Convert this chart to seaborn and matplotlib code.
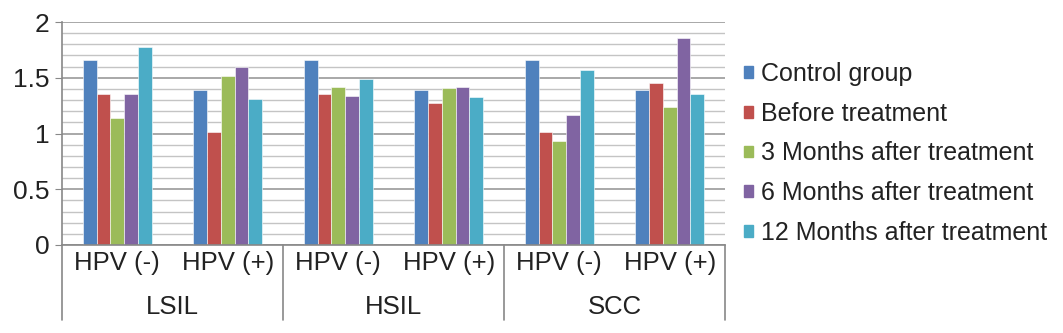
import pandas as pd
import matplotlib.pyplot as plt
import matplotlib.patches as mpatches
import matplotlib.transforms as mtransforms
import numpy as np
import seaborn as sns

# data
lesions = ['LSIL', 'HSIL', 'SCC']
hpv_status = ['HPV (-)', 'HPV (+)']
series_names = ['Control group', 'Before treatment', '3 Months after treatment',
                '6 Months after treatment', '12 Months after treatment']
control = [1.66, 1.39, 1.66, 1.39, 1.66, 1.39]
before = [1.35, 1.01, 1.35, 1.27, 1.01, 1.45]
month3 = [1.14, 1.52, 1.42, 1.41, 0.93, 1.24]
month6 = [1.35, 1.60, 1.34, 1.42, 1.17, 1.86]
month12 = [1.78, 1.31, 1.49, 1.33, 1.57, 1.35]
colors = ['#4F81BD', '#C0504D', '#9BBB59', '#8064A2', '#4BACC6']

# long table for seaborn
cats = [f'{l}|{h}' for l in lesions for h in hpv_status]
rows = []
for name, vals in zip(series_names, [control, before, month3, month6, month12]):
    for c, v in zip(cats, vals):
        rows.append({'cat': c, 'series': name, 'value': v})
df = pd.DataFrame(rows)

sns.set_style('white')
plt.rcParams['font.family'] = ['Liberation Sans', 'DejaVu Sans']

fig = plt.figure(figsize=(10.63, 3.33), dpi=100)
ax = fig.add_axes([62 / 1063, 1 - 245 / 333, (725 - 62) / 1063, (245 - 22) / 333])

sns.barplot(data=df, x='cat', y='value', hue='series', order=cats,
            hue_order=series_names, palette=colors, width=0.62,
            edgecolor='white', linewidth=0.4, saturation=1, ax=ax, legend=False)

ax.set_xlim(-0.5, 5.5)
ax.set_ylim(0, 2)
ax.set_yticks(np.arange(0, 2.01, 0.5))
ax.set_yticklabels(['0', '0.5', '1', '1.5', '2'])
ax.set_yticks(np.arange(0, 2.01, 0.1), minor=True)
ax.grid(axis='y', which='minor', color='#c4c4c4', linewidth=1.0)
ax.grid(axis='y', which='major', color='#9a9a9a', linewidth=1.2)
ax.set_axisbelow(True)
ax.tick_params(axis='y', which='major', labelsize=19, length=5, color='#888888',
               left=True, pad=4, labelcolor='#222222')
ax.tick_params(axis='y', which='minor', length=0)
ax.tick_params(axis='x', length=0, labelsize=18.5, pad=4, labelcolor='#222222')
ax.set_xticks(range(len(cats)))
ax.set_xticklabels([c.split('|')[1] for c in cats])
ax.set_xlabel('')
ax.set_ylabel('')
for s in ['top', 'right']:
    ax.spines[s].set_visible(False)
ax.spines['left'].set_color('#888888')
ax.spines['bottom'].set_color('#888888')
ax.spines['left'].set_linewidth(1.2)
ax.spines['bottom'].set_linewidth(1.2)

# second level of category labels and separator lines
trans = mtransforms.blended_transform_factory(ax.transData, ax.transAxes)
sep_bottom = -(320 - 245) / (245 - 22)
for i, lesion in enumerate(lesions):
    ax.text(2 * i + 0.5, -(307 - 245) / (245 - 22), lesion, transform=trans,
            ha='center', va='center', fontsize=18.5, color='#222222')
for xb in [-0.5, 1.5, 3.5, 5.5]:
    ax.plot([xb, xb], [0, sep_bottom], transform=trans, color='#888888',
            linewidth=1.2, clip_on=False)

handles = [mpatches.Patch(color=c, label=n) for c, n in zip(colors, series_names)]
fig.legend(handles=handles, loc='center left', bbox_to_anchor=(734 / 1063, 1 - 153.5 / 333),
           frameon=False, fontsize=18, handlelength=0.34, handleheight=0.34,
           handletextpad=0.35, labelspacing=0.63, borderaxespad=0, labelcolor='#222222')

fig.savefig('out.png', dpi=100)
